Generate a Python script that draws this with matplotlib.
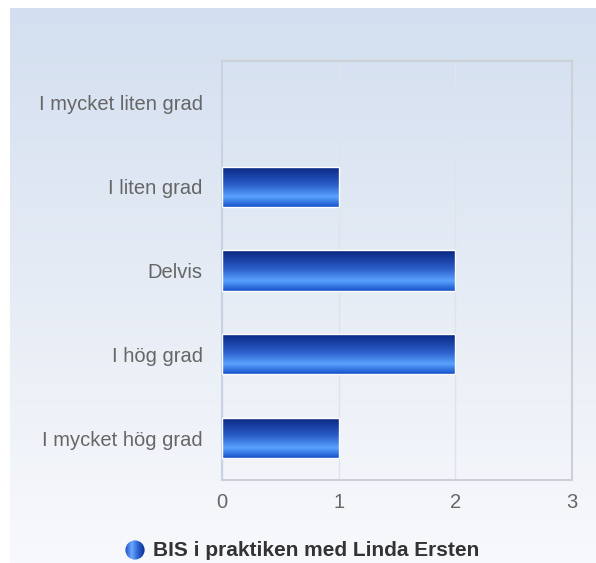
import numpy as np
import matplotlib
matplotlib.use("Agg")
import matplotlib.pyplot as plt
from matplotlib.colors import LinearSegmentedColormap
from matplotlib.patches import Circle

plt.rcParams['font.family'] = ['Liberation Sans', 'DejaVu Sans']

categories = ['I mycket hög grad', 'I hög grad', 'Delvis', 'I liten grad', 'I mycket liten grad']
values = [1, 2, 2, 1, 0]
xticks = [0, 1, 2, 3]
series_name = 'BIS i praktiken med Linda Ersten'

W, H = 596, 563
fig = plt.figure(figsize=(W / 100, H / 100), dpi=100)
fig.patch.set_facecolor('white')

# background panel with vertical gradient
bg = fig.add_axes([10 / W, 0, (W - 10) / W, (H - 8) / H], zorder=0)
bg_cmap = LinearSegmentedColormap.from_list('bg', ['#f8f9fc', '#e6ecf5', '#d3dff0'])
bg.imshow(np.linspace(0, 1, 256).reshape(-1, 1), aspect='auto', cmap=bg_cmap,
          origin='lower', extent=[0, 1, 0, 1])
bg.set_axis_off()

ax = fig.add_axes([222 / W, 1 - 480 / H, 350 / W, 419 / H], zorder=1)
ax.patch.set_alpha(0)

bar_cmap = LinearSegmentedColormap.from_list(
    'bar', [(0, '#1450c8'), (0.25, '#5aa2ff'), (0.55, '#2a5cc8'), (1, '#08247e')])
grad = np.linspace(0, 1, 256).reshape(-1, 1)

y = np.arange(len(categories))
bars = ax.barh(y, values, height=0.48, facecolor='none', edgecolor='white', lw=1, zorder=3)
for b in bars:
    if b.get_width() <= 0:
        b.set_visible(False)
        continue
    x0, y0 = b.get_x(), b.get_y()
    im = ax.imshow(grad, aspect='auto', cmap=bar_cmap, origin='lower',
                   extent=[x0, x0 + b.get_width(), y0, y0 + b.get_height()], zorder=2)
    im.set_clip_path(b)

ax.set_xlim(0, 3)
ax.set_ylim(-0.5, len(categories) - 0.5)
ax.set_xticks(xticks)
ax.set_yticks(y)
ax.set_yticklabels(categories)
ax.tick_params(length=0, labelsize=14.5, labelcolor='#666666')
ax.tick_params(axis='x', pad=9)
ax.tick_params(axis='y', pad=14)
ax.grid(axis='x', color='#dfe3ea', lw=1)
ax.set_axisbelow(True)
for s in ax.spines.values():
    s.set_color('#cdd0d6')
    s.set_linewidth(1.5)
ax.spines['left'].set_color('#c8d2e2')

# legend: gradient circle + label
lax = fig.add_axes([125 / W, 1 - 560 / H, 20 / W, 20 / H], zorder=2)
lcmap = LinearSegmentedColormap.from_list('leg', ['#1c4cc0', '#6aa8ff', '#2a60d0', '#0a2c90'])
lim = lax.imshow(np.linspace(0, 1, 256).reshape(1, -1), aspect='auto', cmap=lcmap,
                 extent=[0, 1, 0, 1])
circ = Circle((0.5, 0.5), 0.48, transform=lax.transData, facecolor='none')
lax.add_patch(circ)
lim.set_clip_path(circ)
lax.set_xlim(0, 1)
lax.set_ylim(0, 1)
lax.set_axis_off()
fig.text(153 / W, 1 - 551 / H, series_name, fontsize=15, fontweight='bold',
         color='#333333', va='center', ha='left')

fig.savefig('out.png', dpi=100)
